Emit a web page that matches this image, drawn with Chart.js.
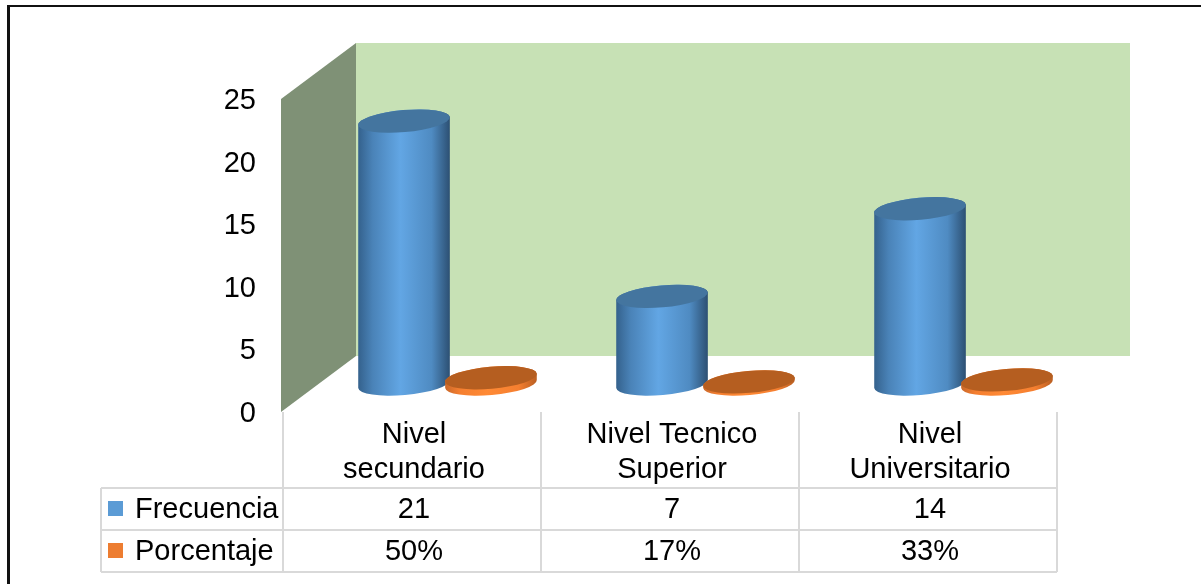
<!DOCTYPE html>
<html>
<head>
<meta charset="utf-8">
<title>Nivel de formacion</title>
<script src="https://cdn.jsdelivr.net/npm/chart.js@4/dist/chart.umd.min.js"></script>
<style>
    html, body { margin: 0; padding: 0; background: #fff; }
    #wrap { position: relative; width: 1201px; height: 584px; overflow: hidden; }
    #frame { position: absolute; left: 7px; top: 5px; width: 1300px; height: 700px; border: solid #111; border-width: 2px 0 0 3px; box-sizing: border-box; }
</style>
</head>
<body>
<div id="wrap">
    <canvas id="chart" width="1201" height="584"></canvas>
    <div id="frame"></div>
</div>
<script>
// Chart data
const categories = [['Nivel', 'secundario'], ['Nivel Tecnico', 'Superior'], ['Nivel', 'Universitario']];
const frecuencia = [21, 7, 14];
const porcentaje = [0.5, 0.17, 0.33];
const yTicks = [0, 5, 10, 15, 20, 25];
const frecuenciaLabels = ['21', '7', '14'];
const porcentajeLabels = ['50%', '17%', '33%'];

const FONT = '"Liberation Sans", Arial, sans-serif';
const FONT_SIZE = 29;
const BLUE = '#5b9bd5';
const ORANGE = '#ed7d31';

// Draw the walls, then one cylinder per bar
const cylinderPlugin = {
    id: 'cylinders',
    beforeDatasetsDraw(chart) {
        const ctx = chart.ctx;
        const area = chart.chartArea;
        const wallX = area.left - 4;
        const wallTop = area.top - 2;
        const wallBottom = area.bottom - 2;

        // Back wall
        ctx.fillStyle = '#c7e1b5';
        ctx.fillRect(wallX + 75, wallTop - 56, area.right + 71 - (wallX + 75), wallBottom - wallTop);

        // Side wall
        ctx.fillStyle = '#7f9176';
        ctx.beginPath();
        ctx.moveTo(wallX, wallTop);
        ctx.lineTo(wallX + 75, wallTop - 56);
        ctx.lineTo(wallX + 75, wallBottom - 56);
        ctx.lineTo(wallX, wallBottom);
        ctx.closePath();
        ctx.fill();

        const blueBars = chart.getDatasetMeta(0).data;
        const orangeBars = chart.getDatasetMeta(1).data;
        blueBars.forEach((bar, i) => {
            drawCylinder(ctx, bar, ['#34618c', '#4a83b8', '#62a6e4', '#4f8bc2', '#2c4f72'], '#44759f');
            drawCylinder(ctx, orangeBars[i], ['#c9682a', '#f57f30', '#ff8a35', '#f57f30', '#b95f22'], '#b55e20');
        });
        return false;
    },
    afterDraw(chart) {
        drawTable(chart);
    }
};

// Cylinder standing on the floor, centre taken from the bar element
function drawCylinder(ctx, bar, stops, topColor) {
    const cx = bar.x + 33.5;
    const rx = bar.width / 2 + 2.5;
    const ry = 11;
    const rot = -5 * Math.PI / 180;
    const baseY = bar.base - 30;
    const topY = bar.y - 30;

    const gradient = ctx.createLinearGradient(cx - rx, 0, cx + rx, 0);
    stops.forEach((color, i) => gradient.addColorStop([0, 0.16, 0.46, 0.8, 1][i], color));

    ctx.fillStyle = gradient;
    ctx.beginPath();
    ctx.ellipse(cx, baseY, rx, ry, rot, 0, Math.PI);
    ctx.ellipse(cx, topY, rx, ry, rot, Math.PI, Math.PI * 2);
    ctx.closePath();
    ctx.fill();

    ctx.fillStyle = topColor;
    ctx.beginPath();
    ctx.ellipse(cx, topY, rx, ry, rot, 0, Math.PI * 2);
    ctx.fill();
}

// Data table under the chart
function drawTable(chart) {
    const ctx = chart.ctx;
    const area = chart.chartArea;
    const xScale = chart.scales.x;
    const colWidth = (area.right - area.left) / categories.length;
    const rowLines = [area.bottom + 74, area.bottom + 116, area.bottom + 158];
    const tableLeft = 101;

    ctx.save();
    ctx.strokeStyle = '#d9d9d9';
    ctx.lineWidth = 2;
    ctx.beginPath();
    for (let i = 0; i <= categories.length; i++) {
        const x = area.left - 2 + colWidth * i;
        ctx.moveTo(x, area.bottom - 2);
        ctx.lineTo(x, rowLines[2]);
    }
    rowLines.forEach(y => {
        ctx.moveTo(tableLeft, y);
        ctx.lineTo(area.right - 2, y);
    });
    ctx.moveTo(tableLeft, rowLines[0]);
    ctx.lineTo(tableLeft, rowLines[2]);
    ctx.stroke();

    ctx.font = FONT_SIZE + 'px ' + FONT;
    ctx.fillStyle = '#000';
    ctx.textBaseline = 'middle';
    const rows = [
        { name: 'Frecuencia', color: BLUE, labels: frecuenciaLabels },
        { name: 'Porcentaje', color: ORANGE, labels: porcentajeLabels }
    ];
    rows.forEach((row, r) => {
        const midY = (rowLines[r] + rowLines[r + 1]) / 2;
        ctx.fillStyle = row.color;
        ctx.fillRect(108, midY - 8, 15, 15);
        ctx.fillStyle = '#000';
        ctx.textAlign = 'left';
        ctx.fillText(row.name, 135, midY + 1);
        ctx.textAlign = 'center';
        row.labels.forEach((label, i) => {
            ctx.fillText(label, xScale.getPixelForValue(i), midY + 1);
        });
    });
    ctx.restore();
}

new Chart(document.getElementById('chart'), {
    type: 'bar',
    data: {
        labels: categories,
        datasets: [
            { label: 'Frecuencia', data: frecuencia, backgroundColor: BLUE },
            { label: 'Porcentaje', data: porcentaje, backgroundColor: ORANGE }
        ]
    },
    options: {
        responsive: false,
        animation: false,
        layout: { padding: { top: 101, right: 142, left: 0, bottom: 0 } },
        datasets: { bar: { categoryPercentage: 0.674, barPercentage: 1 } },
        plugins: {
            legend: { display: false },
            tooltip: { enabled: false }
        },
        scales: {
            x: {
                grid: { display: false, drawTicks: false },
                border: { display: false },
                ticks: {
                    color: '#000',
                    padding: 4,
                    maxRotation: 0,
                    autoSkip: false,
                    font: { family: FONT, size: FONT_SIZE, lineHeight: 1.2 }
                },
                afterFit(scale) { scale.height = 170; }
            },
            y: {
                min: 0,
                max: 25,
                grid: { display: false, drawTicks: false },
                border: { display: false },
                afterBuildTicks(scale) { scale.ticks = yTicks.map(value => ({ value })); },
                ticks: {
                    color: '#000',
                    padding: 29,
                    font: { family: FONT, size: FONT_SIZE }
                },
                afterFit(scale) { scale.width = 285; }
            }
        }
    },
    plugins: [cylinderPlugin]
});
</script>
</body>
</html>
